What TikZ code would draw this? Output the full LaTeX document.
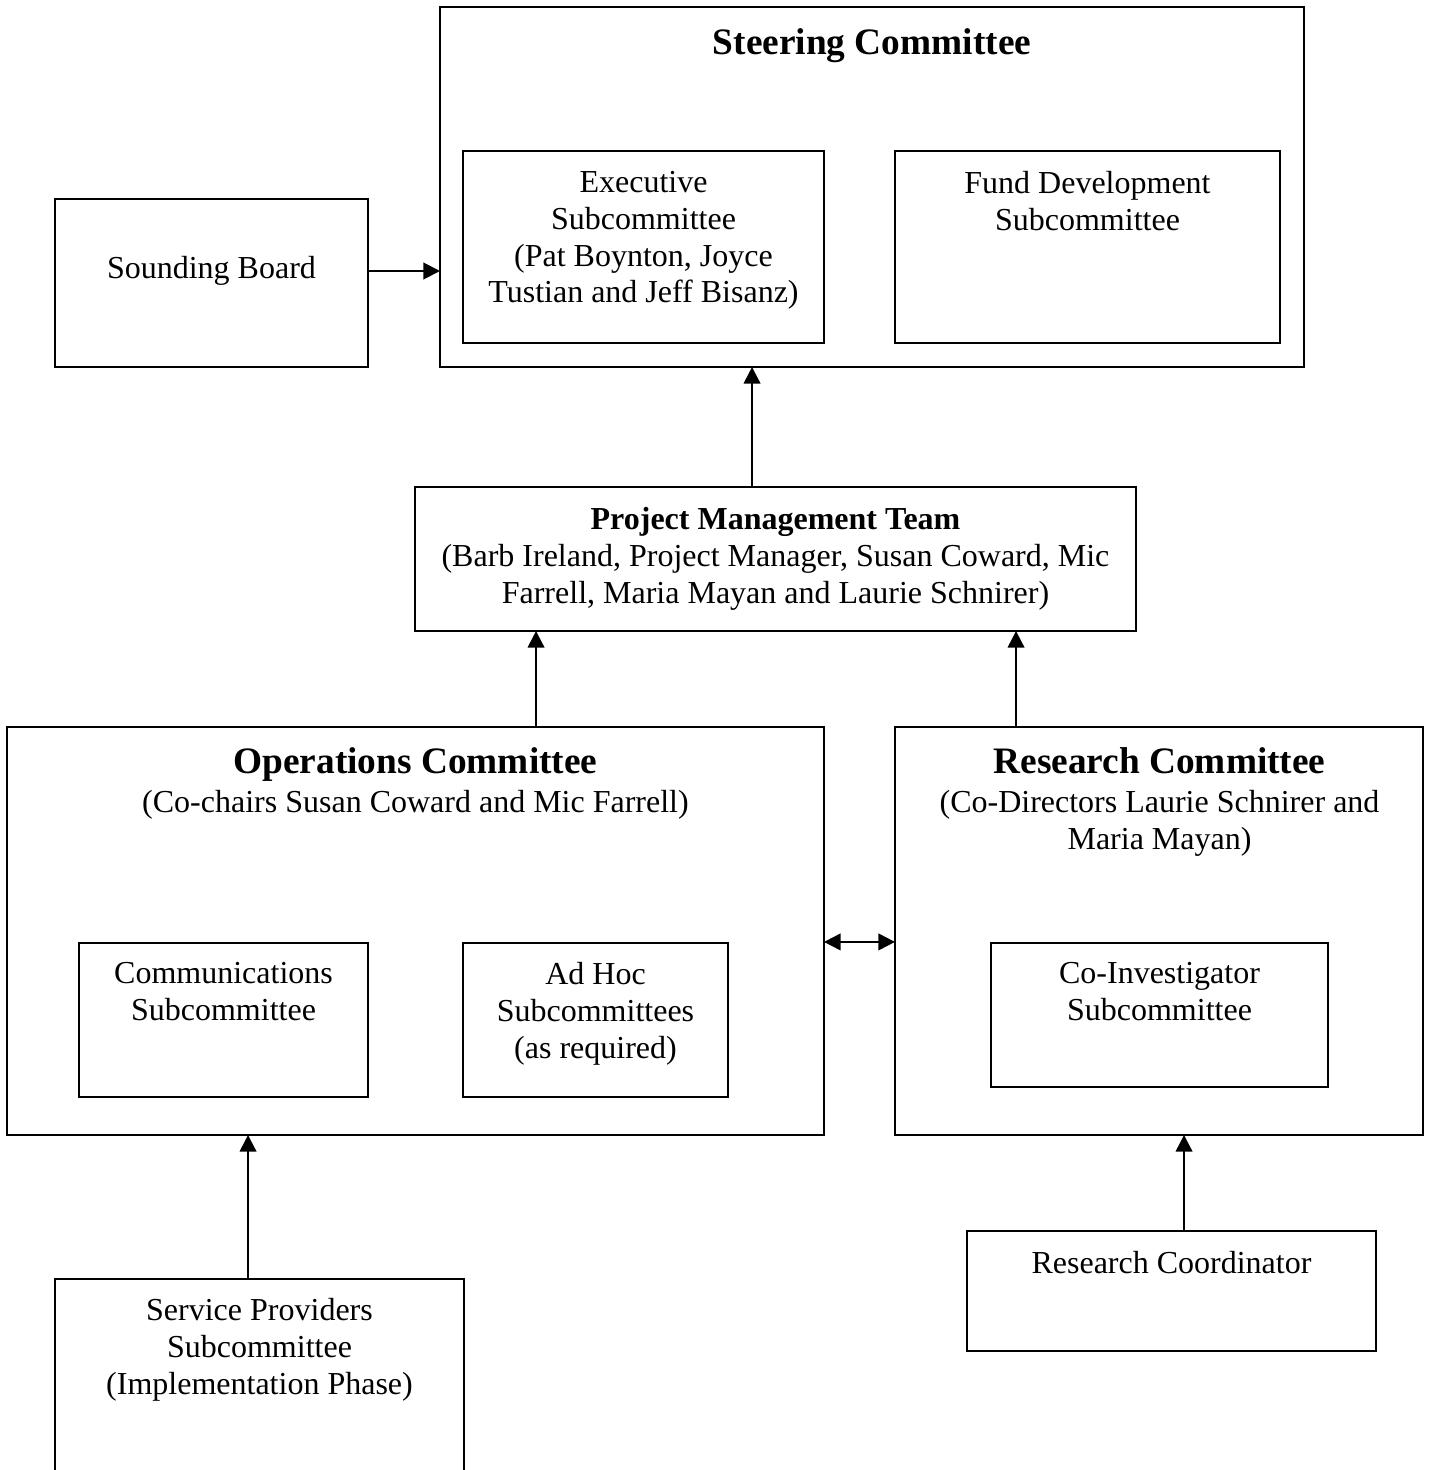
\documentclass[tikz,border=0pt]{standalone}
\usepackage{fontspec}
\setmainfont{Liberation Serif}
\usetikzlibrary{arrows.meta}
\newcommand\pxu{0.375pt}
\tikzset{
  box/.style={draw, line width=0.75pt, inner sep=0pt, outer sep=0pt, fill=none},
  txt/.style={anchor=north, inner sep=0pt, align=center, font=\fontsize{12}{13.75}\selectfont},
  arr/.style={line width=0.75pt, -{Triangle[length=6.2pt,width=6.2pt]}},
  darr/.style={line width=0.75pt, {Triangle[length=6.2pt,width=6.2pt]}-{Triangle[length=6.2pt,width=6.2pt]}}
}
\begin{document}
\begin{tikzpicture}[x=0.375pt, y=-0.375pt]
\clip (0,0) rectangle (1430,1470);
\fill[white] (0,0) rectangle (1430,1470);
% boxes
\node[box, minimum width=864*\pxu, minimum height=360*\pxu] (SC) at (872,187) {};
\node[box, minimum width=361*\pxu, minimum height=192*\pxu] (EX) at (643.5,247) {};
\node[box, minimum width=385*\pxu, minimum height=192*\pxu] (FD) at (1087.5,247) {};
\node[box, minimum width=313*\pxu, minimum height=168*\pxu] (SB) at (211.5,283) {};
\node[box, minimum width=721*\pxu, minimum height=144*\pxu] (PMT) at (775.5,559) {};
\node[box, minimum width=817*\pxu, minimum height=408*\pxu] (OPS) at (415.5,931) {};
\node[box, minimum width=528*\pxu, minimum height=408*\pxu] (RES) at (1159,931) {};
\node[box, minimum width=289*\pxu, minimum height=154*\pxu] (COM) at (223.5,1020) {};
\node[box, minimum width=265*\pxu, minimum height=154*\pxu] (AH) at (595.5,1020) {};
\node[box, minimum width=337*\pxu, minimum height=144*\pxu] (COI) at (1159.5,1015) {};
\node[box, minimum width=409*\pxu, minimum height=241*\pxu] (SP) at (259.5,1399.5) {};
\node[box, minimum width=409*\pxu, minimum height=120*\pxu] (RC) at (1171.5,1291) {};
% texts
\node[txt, font=\fontsize{14}{16}\selectfont\bfseries] (tSC) at (872,28) {Steering Committee};
\node[txt] (tEX) at (643.5,171) {Executive\\Subcommittee\\(Pat Boynton, Joyce\\Tustian and Jeff Bisanz)};
\node[txt] (tFD) at (1087.5,171) {Fund Development\\Subcommittee};
\node[txt] (tSB) at (211.5,256) {Sounding Board};
\node[txt] (tPMT) at (775.5,507) {\textbf{Project Management Team}\\(Barb Ireland, Project Manager, Susan Coward, Mic\\Farrell, Maria Mayan and Laurie Schnirer)};
\node[txt, font=\fontsize{14}{16}\selectfont\bfseries] (tOPS) at (415.5,747) {Operations Committee};
\node[txt] (sOPS) at (415.5,790) {(Co-chairs Susan Coward and Mic Farrell)};
\node[txt, font=\fontsize{14}{16}\selectfont\bfseries] (tRES) at (1159.5,747) {Research Committee};
\node[txt] (sRES) at (1159.5,790) {(Co-Directors Laurie Schnirer and\\Maria Mayan)};
\node[txt] (tCOM) at (223.5,962) {Communications\\Subcommittee};
\node[txt] (tAH) at (595.5,962) {Ad Hoc\\Subcommittees\\(as required)};
\node[txt] (tCOI) at (1159.5,962) {Co-Investigator\\Subcommittee};
\node[txt] (tRC) at (1171.5,1251) {Research Coordinator};
\node[txt] (tSP) at (259.5,1298) {Service Providers\\Subcommittee\\(Implementation Phase)};
% connectors
\draw[arr] ([yshift=4.5pt]SB.east) -- ([yshift=4.5pt]SB.east -| SC.west);
\draw[arr] ([xshift=-8.8pt]PMT.north) -- ([xshift=-8.8pt]PMT.north |- SC.south);
\draw[arr] ([xshift=-89.8pt]PMT.south |- OPS.north) -- ([xshift=-89.8pt]PMT.south);
\draw[arr] ([xshift=90.2pt]PMT.south |- RES.north) -- ([xshift=90.2pt]PMT.south);
\draw[darr] ([yshift=-4.1pt]OPS.east) -- ([yshift=-4.1pt]OPS.east -| RES.west);
\draw[arr] ([xshift=-4.3pt]SP.north) -- ([xshift=-4.3pt]SP.north |- OPS.south);
\draw[arr] ([xshift=4.7pt]RC.north) -- ([xshift=4.7pt]RC.north |- RES.south);
\end{tikzpicture}
\end{document}
